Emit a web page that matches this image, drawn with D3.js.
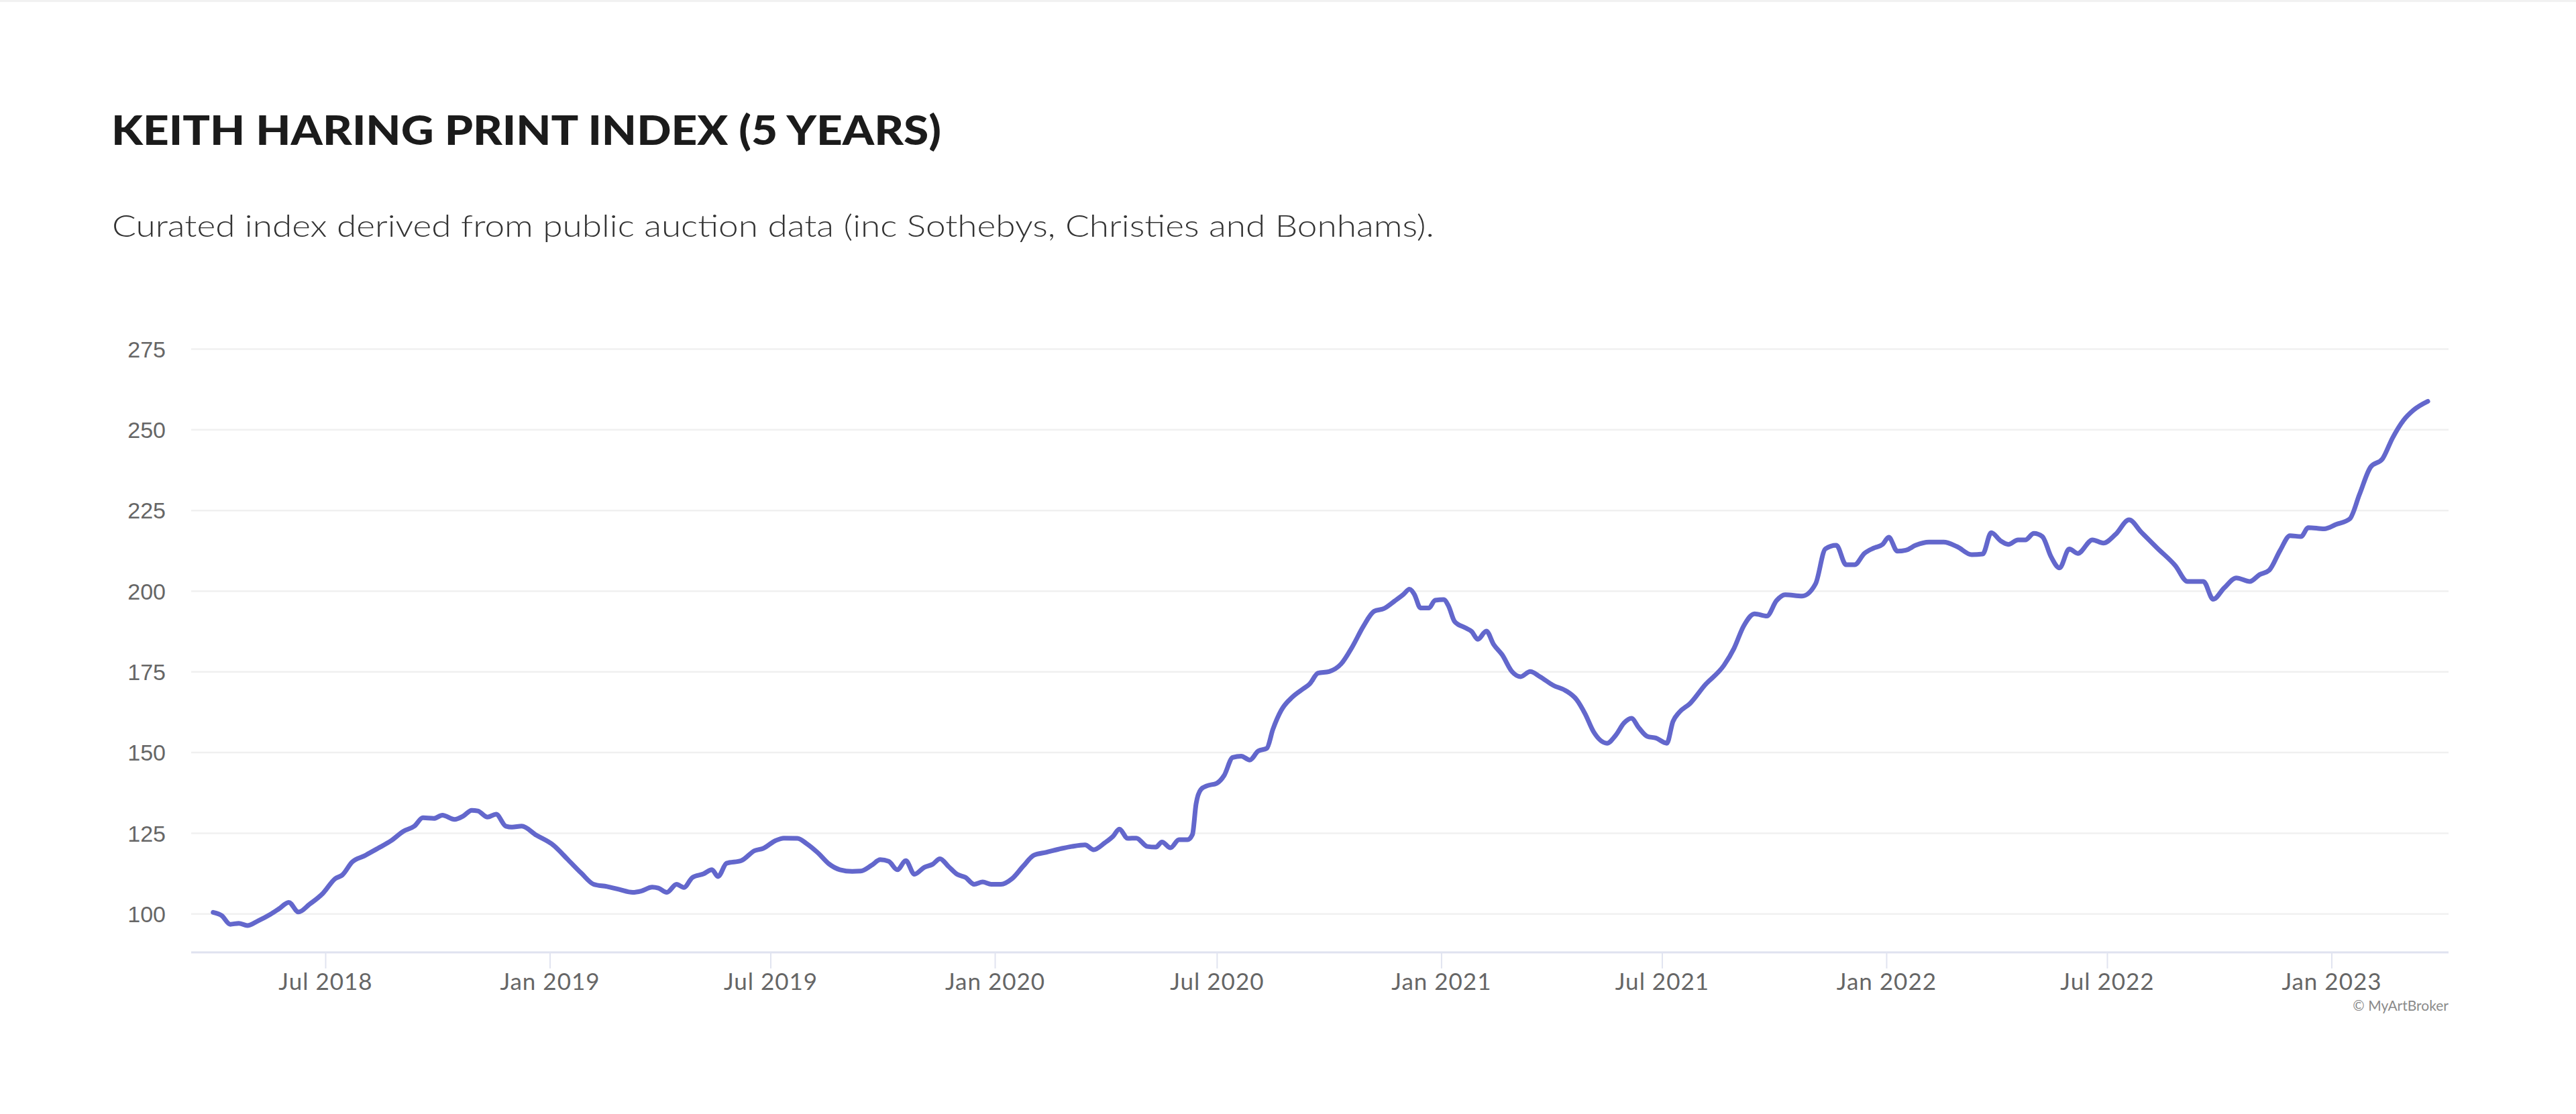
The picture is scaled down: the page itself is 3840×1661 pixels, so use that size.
<!DOCTYPE html>
<html>
<head>
<meta charset="utf-8">
<script src="https://cdn.jsdelivr.net/npm/d3@7"></script>
<style>
  html, body { margin: 0; padding: 0; background: #ffffff; }
  svg { display: block; }
</style>
</head>
<body>
<svg id="chart" width="3840" height="1661"></svg>
<script>
// ---------------- DATA ----------------
const titleText = "KEITH HARING PRINT INDEX (5 YEARS)";
const subtitleText = "Curated index derived from public auction data (inc Sothebys, Christies and Bonhams).";
const creditText = "\u00A9 MyArtBroker";

const yTickValues = [100, 125, 150, 175, 200, 225, 250, 275];
const xTickDates = ["2018-07-01","2019-01-01","2019-07-01","2020-01-01","2020-07-01","2021-01-01","2021-07-01","2022-01-01","2022-07-01","2023-01-01"];
const xTickLabels = ["Jul 2018","Jan 2019","Jul 2019","Jan 2020","Jul 2020","Jan 2021","Jul 2021","Jan 2022","Jul 2022","Jan 2023"];

const dates = [
"2018-03-31","2018-04-07","2018-04-14","2018-04-21","2018-04-28","2018-05-07","2018-05-17","2018-05-24","2018-06-01","2018-06-09",
"2018-06-18","2018-06-29","2018-07-09","2018-07-15","2018-07-23","2018-08-02","2018-08-13","2018-08-24","2018-09-03","2018-09-12",
"2018-09-19","2018-09-28","2018-10-05","2018-10-15","2018-10-22","2018-10-29","2018-11-03","2018-11-11","2018-11-18","2018-11-26",
"2018-12-01","2018-12-09","2018-12-21","2019-01-04","2019-01-16","2019-01-27","2019-02-06","2019-02-17","2019-02-27","2019-03-10",
"2019-03-17","2019-03-26","2019-03-31","2019-04-07","2019-04-15","2019-04-21","2019-04-28","2019-05-07","2019-05-14","2019-05-19",
"2019-05-26","2019-06-07","2019-06-18","2019-06-25","2019-07-05","2019-07-12","2019-07-23","2019-07-31","2019-08-09","2019-08-18",
"2019-08-27","2019-09-06","2019-09-13","2019-09-22","2019-09-29","2019-10-06","2019-10-13","2019-10-20","2019-10-27","2019-11-04",
"2019-11-11","2019-11-17","2019-11-24","2019-12-01","2019-12-08","2019-12-15","2019-12-22","2019-12-29","2020-01-06","2020-01-15",
"2020-01-24","2020-02-02","2020-02-12","2020-02-25","2020-03-04","2020-03-15","2020-03-22","2020-03-31","2020-04-07","2020-04-12",
"2020-04-19","2020-04-26","2020-05-05","2020-05-12","2020-05-17","2020-05-24","2020-05-31","2020-06-07","2020-06-11","2020-06-14",
"2020-06-18","2020-06-23","2020-07-01","2020-07-07","2020-07-14","2020-07-21","2020-07-28","2020-08-04","2020-08-11","2020-08-16",
"2020-08-23","2020-09-01","2020-09-10","2020-09-15","2020-09-22","2020-10-01","2020-10-11","2020-10-20","2020-10-29","2020-11-07",
"2020-11-15","2020-11-24","2020-12-01","2020-12-06","2020-12-10","2020-12-15","2020-12-22","2020-12-27","2021-01-03","2021-01-07",
"2021-01-12","2021-01-21","2021-01-26","2021-01-31","2021-02-07","2021-02-13","2021-02-20","2021-02-28","2021-03-07","2021-03-15",
"2021-03-23","2021-04-03","2021-04-13","2021-04-22","2021-04-29","2021-05-06","2021-05-17","2021-05-24","2021-05-31","2021-06-06",
"2021-06-12","2021-06-19","2021-06-26","2021-07-05","2021-07-10","2021-07-15","2021-07-24","2021-08-05","2021-08-21","2021-08-29",
"2021-09-06","2021-09-15","2021-09-25","2021-10-03","2021-10-10","2021-10-24","2021-11-04","2021-11-12","2021-11-21","2021-11-29",
"2021-12-06","2021-12-14","2021-12-22","2021-12-29","2022-01-03","2022-01-10","2022-01-17","2022-01-25","2022-02-05","2022-02-17",
"2022-02-28","2022-03-12","2022-03-21","2022-03-28","2022-04-05","2022-04-11","2022-04-19","2022-04-25","2022-05-02","2022-05-09",
"2022-05-16","2022-05-23","2022-05-31","2022-06-07","2022-06-19","2022-06-28","2022-07-08","2022-07-19","2022-07-29","2022-08-11",
"2022-08-26","2022-09-05","2022-09-18","2022-09-26","2022-10-05","2022-10-15","2022-10-26","2022-11-03","2022-11-11","2022-11-20",
"2022-11-28","2022-12-07","2022-12-13","2022-12-26","2023-01-05","2023-01-16","2023-01-24","2023-02-02","2023-02-12","2023-02-20",
"2023-03-01","2023-03-09","2023-03-21"
];

const values = [
100.4, 99.4, 96.7, 97.0, 96.3, 97.8, 99.8, 101.5, 103.5, 100.5,
102.9, 106.3, 110.8, 112.0, 116.0, 117.9, 120.2, 122.6, 125.5, 127.1,
129.7, 129.5, 130.5, 129.2, 130.2, 132.0, 131.8, 129.9, 130.8, 127.1,
126.8, 127.1, 124.3, 121.2, 116.7, 112.5, 109.1, 108.4, 107.5, 106.6,
107.0, 108.2, 107.9, 106.6, 109.1, 108.1, 111.2, 112.3, 113.6, 111.5,
115.6, 116.4, 119.5, 120.2, 122.6, 123.4, 123.3, 121.6, 118.8, 115.4,
113.6, 113.1, 113.2, 115.0, 116.7, 116.2, 113.6, 116.4, 112.2, 114.3,
115.3, 117.0, 114.6, 112.2, 111.2, 109.1, 109.8, 109.1, 109.1, 110.8,
114.6, 118.1, 119.0, 120.2, 120.8, 121.3, 119.8, 121.9, 124.0, 126.2,
123.3, 123.4, 120.8, 120.6, 122.2, 120.4, 122.9, 122.9, 124.5, 134.0,
138.5, 139.6, 140.4, 142.8, 148.4, 148.8, 147.6, 150.4, 151.2, 157.1,
163.1, 167.1, 169.7, 171.1, 174.5, 175.0, 177.4, 182.6, 188.9, 193.7,
194.5, 196.9, 198.9, 200.5, 198.9, 194.7, 194.7, 197.1, 197.3, 195.3,
190.5, 188.5, 187.4, 185.0, 187.5, 183.4, 180.2, 175.0, 173.4, 175.0,
173.4, 170.7, 169.1, 166.3, 161.9, 156.3, 152.8, 155.2, 159.1, 160.5,
157.6, 154.9, 154.4, 152.8, 159.5, 162.3, 165.1, 170.7, 177.0, 182.1,
189.1, 192.9, 192.2, 197.0, 198.8, 198.4, 202.2, 213.0, 214.1, 208.1,
208.1, 211.6, 213.3, 214.4, 216.6, 212.3, 212.6, 214.1, 215.1, 215.1,
213.7, 211.2, 211.4, 218.0, 215.4, 214.4, 215.8, 215.8, 217.8, 216.8,
210.6, 207.1, 213.0, 211.6, 215.8, 214.8, 217.5, 222.0, 218.2, 213.3,
207.8, 202.9, 202.9, 197.4, 200.9, 204.0, 202.9, 205.0, 206.4, 212.6,
217.1, 216.8, 219.6, 219.2, 220.6, 222.3, 229.9, 238.3, 241.0, 247.3,
252.8, 255.9, 258.7
];

const xDomainDates = ["2018-03-13", "2023-04-07"];
const yDomain = [88, 275];

// ---------------- LAYOUT ----------------
const parse = d3.utcParse("%Y-%m-%d");
const plot = { left: 285, right: 3650, top: 520, bottom: 1420 };

const svg = d3.select("#chart");

svg.append("rect").attr("x", 0).attr("y", 0).attr("width", 3840).attr("height", 3)
  .attr("fill", "#f1f1f1");

const x = d3.scaleUtc()
  .domain(xDomainDates.map(parse))
  .range([plot.left, plot.right]);

const y = d3.scaleLinear()
  .domain(yDomain)
  .range([plot.bottom, plot.top]);

// Title
svg.append("text")
  .attr("x", 166).attr("y", 216)
  .attr("font-family", "Lato, 'Noto Sans', sans-serif")
  .attr("font-weight", 900)
  .attr("font-size", 60)
  .attr("fill", "#1b1b1b")
  .attr("textLength", 1237)
  .attr("lengthAdjust", "spacingAndGlyphs")
  .text(titleText);

// Subtitle
svg.append("text")
  .attr("x", 167).attr("y", 353)
  .attr("font-family", "Lato, 'Noto Sans', sans-serif")
  .attr("font-weight", 300)
  .attr("font-size", 46)
  .attr("fill", "#333333")
  .attr("textLength", 1971)
  .attr("lengthAdjust", "spacingAndGlyphs")
  .text(subtitleText);

// Grid lines (y)
const yAxis = d3.axisLeft(y)
  .tickValues(yTickValues)
  .tickSize(-(plot.right - plot.left))
  .tickPadding(38)
  .tickFormat(d3.format("d"));

const gy = svg.append("g")
  .attr("transform", `translate(${plot.left},0)`)
  .call(yAxis);
gy.select(".domain").remove();
gy.selectAll(".tick line").attr("stroke", "#f0f0f0").attr("stroke-width", 2.5);
gy.selectAll(".tick text")
  .attr("font-family", "'Liberation Sans', Arial, sans-serif")
  .attr("font-size", 34)
  .attr("dy", "0.36em")
  .attr("fill", "#666666");

// X axis
const xAxis = d3.axisBottom(x)
  .tickValues(xTickDates.map(parse))
  .tickSize(24)
  .tickPadding(7)
  .tickFormat((d, i) => xTickLabels[i]);

const gx = svg.append("g")
  .attr("transform", `translate(0,${plot.bottom})`)
  .call(xAxis);
gx.select(".domain").attr("stroke", "#dfe2f0").attr("stroke-width", 3)
  .attr("d", `M${plot.left},0H${plot.right}`);
gx.selectAll(".tick line").attr("stroke", "#e1e4f0").attr("stroke-width", 2);
gx.selectAll(".tick text")
  .attr("font-family", "Lato, 'Noto Sans', sans-serif")
  .attr("font-size", 35)
  .attr("letter-spacing", 1)
  .attr("fill", "#666666");

// Line
const series = dates.map((d, i) => ({ date: parse(d), value: values[i] }));
const line = d3.line()
  .x(d => x(d.date))
  .y(d => y(d.value))
  .curve(d3.curveMonotoneX);

svg.append("path")
  .datum(series)
  .attr("fill", "none")
  .attr("stroke", "#6367cc")
  .attr("stroke-width", 7)
  .attr("stroke-linejoin", "round")
  .attr("stroke-linecap", "round")
  .attr("d", line);

// Credit
svg.append("text")
  .attr("x", plot.right).attr("y", 1507)
  .attr("text-anchor", "end")
  .attr("font-family", "Lato, 'Noto Sans', sans-serif")
  .attr("font-size", 21)
  .attr("fill", "#8a8a8a")
  .text(creditText);
</script>
</body>
</html>
